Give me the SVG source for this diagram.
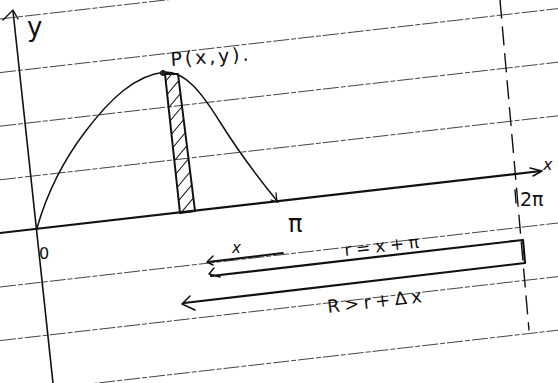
<svg xmlns="http://www.w3.org/2000/svg" width="558" height="383" viewBox="0 0 558 383">
<style>
.rule{stroke:#444;stroke-width:1;stroke-dasharray:16 2 5 2;fill:none}
.ink{stroke:#111;fill:none;stroke-linecap:round;stroke-linejoin:round}
.t{font-family:"DejaVu Sans","Liberation Sans",sans-serif;fill:#111}
</style>
<defs>
<clipPath id="stripClip"><polygon points="165,74 178,74 195,211 180,213"/></clipPath>
</defs>
<rect width="558" height="383" fill="#fff"/>
<g id="ruled-lines">
<line class="rule" x1="0" y1="19" x2="558" y2="-45"/>
<line class="rule" x1="0" y1="72.6" x2="558" y2="8.6"/>
<line class="rule" x1="0" y1="126.2" x2="558" y2="62.2"/>
<line class="rule" x1="0" y1="179.8" x2="558" y2="115.8"/>
<line class="rule" x1="0" y1="287" x2="558" y2="223"/>
<line class="rule" x1="0" y1="340.6" x2="558" y2="276.6"/>
<line class="rule" x1="0" y1="394.2" x2="558" y2="330.2"/>
</g>
<g id="axes">
<line class="ink" x1="13" y1="11" x2="53" y2="383" stroke-width="1.6"/>
<polyline class="ink" points="3,20 13,10 18,19" stroke-width="1.4"/>
<line class="ink" x1="0" y1="233" x2="541" y2="171" stroke-width="2.2"/>
<polyline class="ink" points="530,168 542,171 533,176" stroke-width="1.5"/>
<line class="ink" x1="500" y1="0" x2="529" y2="330" stroke-width="1.4" stroke-dasharray="18 9"/>
</g>
<g id="curve">
<path class="ink" stroke-width="1.5" d="M37,228 C45,200 60,165 85,132 S135,75 165,72 C185,72 200,90 220,122 S260,180 278,202"/>
<polyline class="ink" stroke-width="1.3" points="276,193 277,202 271,200"/>
<circle cx="163" cy="73" r="3" fill="#222"/>
</g>
<g id="strip">
<g clip-path="url(#stripClip)" class="ink" stroke-width="1.1">
<line x1="150" y1="100" x2="200" y2="40"/>
<line x1="150" y1="115" x2="200" y2="55"/>
<line x1="150" y1="130" x2="200" y2="70"/>
<line x1="150" y1="145" x2="200" y2="85"/>
<line x1="150" y1="160" x2="200" y2="100"/>
<line x1="150" y1="175" x2="200" y2="115"/>
<line x1="150" y1="190" x2="200" y2="130"/>
<line x1="150" y1="205" x2="200" y2="145"/>
<line x1="150" y1="220" x2="200" y2="160"/>
<line x1="150" y1="235" x2="200" y2="175"/>
<line x1="150" y1="250" x2="200" y2="190"/>
</g>
<polygon class="ink" stroke-width="2" points="165,74 178,74 195,211 180,213"/>
</g>
<g id="arrows">
<line class="ink" x1="208" y1="262" x2="283" y2="253" stroke-width="1.8"/>
<polyline class="ink" points="213,256 207,262 213,265" stroke-width="1.5"/>
<polyline class="ink" points="211,276 523,240 525,263 184,303" stroke-width="2.2"/>
<polyline class="ink" points="214,268 209,274 220,277" stroke-width="1.5"/>
<polyline class="ink" points="190,296 182,304 195,310" stroke-width="1.6"/>
</g>
<g id="labels">
<text class="t" x="27" y="36" font-size="26">y</text>
<text class="t" x="171" y="66" font-size="19" textLength="78" lengthAdjust="spacing" transform="rotate(-4 171 66)">P(x,y).</text>
<text class="t" x="39" y="259" font-size="16">0</text>
<text class="t" x="288" y="232" font-size="24">π</text>
<text class="t" x="543" y="170" font-size="16" font-style="italic">x</text>
<line class="ink" x1="515" y1="190" x2="516" y2="203" stroke-width="1.4"/>
<text class="t" x="520" y="206" font-size="19">2π</text>
<text class="t" x="232" y="253" font-size="15" font-style="italic">x</text>
<text class="t" x="345" y="256" font-size="17" textLength="75" lengthAdjust="spacing" transform="rotate(-6.5 345 256)">r=x+π</text>
<text class="t" x="328" y="313" font-size="18" textLength="95" lengthAdjust="spacing" transform="rotate(-6.5 328 313)">R&gt;r+Δx</text>
</g>
</svg>
